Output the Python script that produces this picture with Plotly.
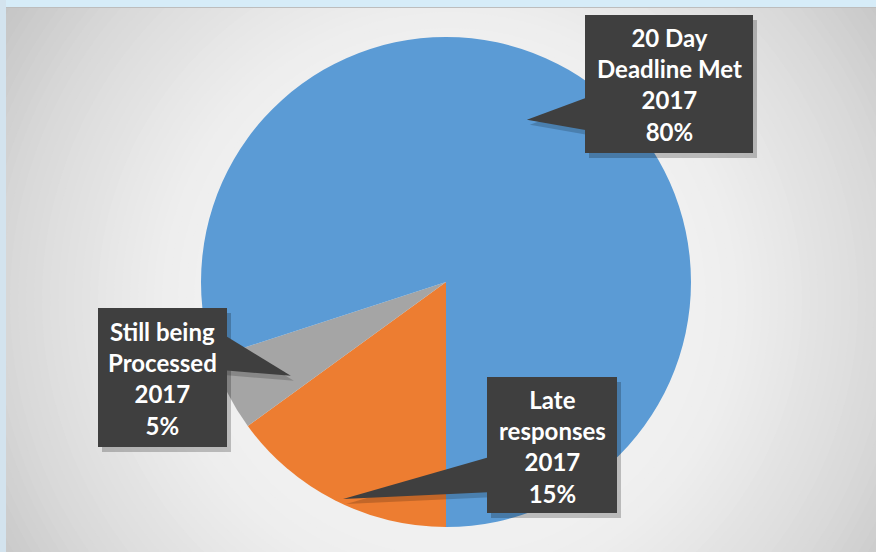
import math
import plotly.graph_objects as go

# ---------------- data ----------------
categories = ["Late responses", "Still being Processed", "20 Day Deadline Met"]
values = [15, 5, 80]
year_label = "2017"
box_titles = ["Late<br>responses", "Still being<br>Processed", "20 Day<br>Deadline Met"]
colors = ["#ED7D31", "#A5A5A5", "#5B9BD5"]

# ---------------- layout geometry (pixels) ----------------
W, H = 876, 552
ML, MR, MT, MB = 16, 0, 37, 25
PW, PH = W - ML - MR, H - MT - MB
CX, CY = ML + PW / 2, MT + PH / 2
R = min(PW, PH) / 2
ROT = 180  # first slice starts at 6 o'clock, clockwise


def px(x):
    return (x - ML) / PW


def py(y):
    return (H - MB - y) / PH


# callout placement: box (x0,y0,x1,y1), side of wedge base, base y-span,
# tip position inside the slice (fraction along slice, fraction of radius)
callouts = [
    dict(box=(487, 377, 617, 513), side="left", base=(456, 492), tip=(0.47, 0.98)),
    dict(box=(98, 308, 227, 447), side="right", base=(333, 370), tip=(0.27, 0.74)),
    dict(box=(585, 15, 753, 153), side="left", base=(96, 131), tip=(0.467, 0.74)),
]

shapes = []

# radial gradient background
def grad(d):
    pts = [(0, 243), (250, 240), (300, 237), (440, 217), (560, 192), (700, 185)]
    for (d0, c0), (d1, c1) in zip(pts, pts[1:]):
        if d <= d1:
            return c0 + (c1 - c0) * (d - d0) / (d1 - d0)
    return pts[-1][1]

GX, GY = 450, 300
for r in range(600, 0, -8):
    c = int(round(grad(r)))
    shapes.append(dict(type="circle", xref="paper", yref="paper", layer="below",
                       x0=px(GX - r), x1=px(GX + r), y0=py(GY + r), y1=py(GY - r),
                       fillcolor=f"rgb({c},{c},{c})", line=dict(width=0)))
# frame
shapes.append(dict(type="rect", xref="paper", yref="paper", layer="below",
                   x0=px(-5), x1=px(W + 5), y0=py(7), y1=py(-5),
                   fillcolor="#D6ECF8", line=dict(width=0)))
shapes.append(dict(type="rect", xref="paper", yref="paper", layer="below",
                   x0=px(-5), x1=px(6), y0=py(H + 5), y1=py(-5),
                   fillcolor="#D3E3EE", line=dict(width=0)))
shapes.append(dict(type="line", xref="paper", yref="paper", layer="below",
                   x0=px(6), x1=px(W), y0=py(7.5), y1=py(7.5),
                   line=dict(color="#BDBDBD", width=1)))

annotations = []
total = sum(values)
cum = 0
BOX = "#3F3F3F"
for i, (v, cfg) in enumerate(zip(values, callouts)):
    start = ROT + cum / total * 360
    span = v / total * 360
    cum += v
    a = math.radians(start + cfg["tip"][0] * span)
    tx = CX + R * cfg["tip"][1] * math.sin(a)
    ty = CY - R * cfg["tip"][1] * math.cos(a)
    x0, y0, x1, y1 = cfg["box"]
    bx = x0 if cfg["side"] == "left" else x1
    inset = 6 if cfg["side"] == "left" else -6
    ya, yb = cfg["base"]
    # shadow
    shapes.append(dict(type="rect", xref="paper", yref="paper", layer="above",
                       x0=px(x0 + 4), x1=px(x1 + 4), y0=py(y1 + 5), y1=py(y0 + 5),
                       fillcolor="rgba(0,0,0,0.22)", line=dict(width=0)))
    shapes.append(dict(type="path", xref="paper", yref="paper", layer="above",
                       path=f"M{px(bx + inset + 3)},{py(ya + 5)} L{px(tx + 3)},{py(ty + 5)} "
                            f"L{px(bx + inset + 3)},{py(yb + 5)} Z",
                       fillcolor="rgba(0,0,0,0.18)", line=dict(width=0)))
    # wedge + box
    shapes.append(dict(type="path", xref="paper", yref="paper", layer="above",
                       path=f"M{px(bx + inset)},{py(ya)} L{px(tx)},{py(ty)} L{px(bx + inset)},{py(yb)} Z",
                       fillcolor=BOX, line=dict(width=0)))
    shapes.append(dict(type="rect", xref="paper", yref="paper", layer="above",
                       x0=px(x0), x1=px(x1), y0=py(y1), y1=py(y0),
                       fillcolor=BOX, line=dict(width=0)))
    pct = f"{round(v / total * 100)}%"
    annotations.append(dict(xref="paper", yref="paper", showarrow=False,
                            x=px((x0 + x1) / 2), y=py((y0 + y1) / 2 + 1),
                            xanchor="center", yanchor="middle", align="center",
                            text=f"{box_titles[i]}<br>{year_label}<br>{pct}",
                            font=dict(family="Lato", size=24, color="white", weight="bold")))

fig = go.Figure(go.Pie(
    labels=categories, values=values, sort=False, direction="clockwise",
    rotation=ROT, marker=dict(colors=colors, line=dict(width=0)),
    textinfo="none", hoverinfo="label+percent", showlegend=False,
))
fig.update_layout(
    width=W, height=H, margin=dict(l=ML, r=MR, t=MT, b=MB),
    paper_bgcolor="#D6ECF8", plot_bgcolor="rgba(0,0,0,0)",
    shapes=shapes, annotations=annotations, showlegend=False,
)
fig.write_html("out.html")
